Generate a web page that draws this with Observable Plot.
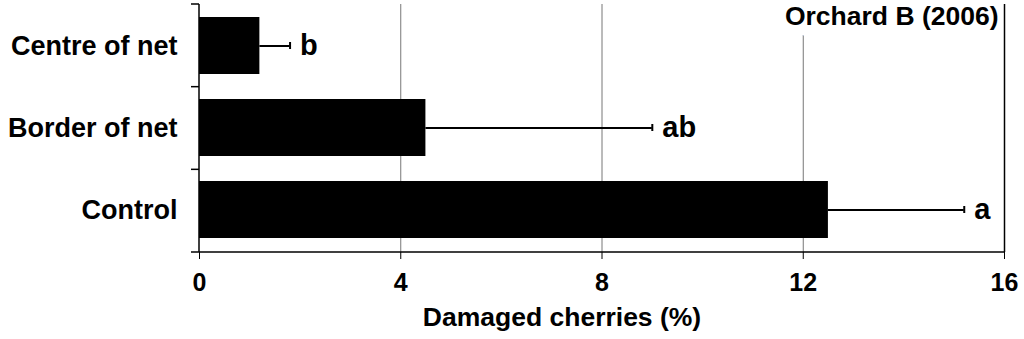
<!DOCTYPE html>
<html>
<head>
<meta charset="utf-8">
<script src="https://cdn.jsdelivr.net/npm/d3@7"></script>
<script src="https://cdn.jsdelivr.net/npm/@observablehq/plot@0.6"></script>
<style>
  html, body { margin: 0; padding: 0; background: #fff; }
  #chart svg { display: block; }
</style>
</head>
<body>
<div id="chart"></div>
<script>
const categories = ["Centre of net", "Border of net", "Control"];
const means = [1.2, 4.5, 12.5];
const upper = [1.8, 9.0, 15.2];
const letters = ["b", "ab", "a"];
const xTicks = [0, 4, 8, 12, 16];
const gridTicks = [4, 8, 12];
const titleText = "Orchard B (2006)";
const xLabel = "Damaged cherries (%)";

const rows = categories.map((c, i) => ({cat: c, mean: means[i], hi: upper[i], letter: letters[i]}));

const axesLines = (index, scales, values, dims) => {
  const {width, height, marginTop, marginBottom, marginLeft, marginRight} = dims;
  const n = categories.length;
  const step = (height - marginTop - marginBottom) / n;
  const g = d3.create("svg:g").attr("stroke", "#000").attr("stroke-width", 1.5).attr("fill", "none");
  const x0 = marginLeft, yb = height - marginBottom;
  g.append("line").attr("x1", x0).attr("x2", x0).attr("y1", marginTop).attr("y2", yb);
  g.append("line").attr("x1", x0 - 8).attr("x2", width - marginRight).attr("y1", yb).attr("y2", yb);
  for (let i = 0; i < n; i++) {
    const y = marginTop + i * step;
    g.append("line").attr("x1", x0 - 8).attr("x2", x0).attr("y1", y).attr("y2", y);
  }
  return g.node();
};

const chart = Plot.plot({
  width: 1024,
  height: 339,
  marginLeft: 199,
  marginRight: 20,
  marginTop: 4,
  marginBottom: 87,
  style: {fontFamily: "'Liberation Sans', Arial, sans-serif", fontWeight: "bold", background: "#fff", color: "#000"},
  x: {domain: [0, 16]},
  y: {domain: categories, paddingInner: 0.3, paddingOuter: 0.15},
  marks: [
    Plot.ruleX(gridTicks, {stroke: "#777", strokeWidth: 1}),
    Plot.text([titleText], {frameAnchor: "top-right", dx: -6, dy: 2, fontSize: 26.5, fontWeight: "bold", fill: "#000", stroke: "#fff", strokeWidth: 22, paintOrder: "stroke"}),
    Plot.ruleX([16], {stroke: "#000", strokeWidth: 1.5}),
    Plot.barX(rows, {x: "mean", y: "cat", fill: "#000"}),
    Plot.ruleY(rows, {x1: "mean", x2: "hi", y: "cat", stroke: "#000", strokeWidth: 2}),
    Plot.tickX(rows, {x: "hi", y: "cat", stroke: "#000", strokeWidth: 2, insetTop: 25, insetBottom: 25}),
    Plot.text(rows, {x: "hi", y: "cat", text: "letter", dx: 10, textAnchor: "start", fontSize: 29, fontWeight: "bold", fill: "#000"}),
    Plot.axisX({ticks: xTicks, tickSize: 7, tickPadding: 14, fontSize: 25, label: null, tickFormat: d => String(d)}),
    Plot.axisY({tickSize: 0, tickPadding: 22, fontSize: 27, label: null}),
    Plot.text([xLabel], {frameAnchor: "bottom", dx: -40, dy: 73, fontSize: 26.5, fontWeight: "bold", fill: "#000"}),
    axesLines
  ]
});

document.getElementById("chart").appendChild(chart);
</script>
</body>
</html>
